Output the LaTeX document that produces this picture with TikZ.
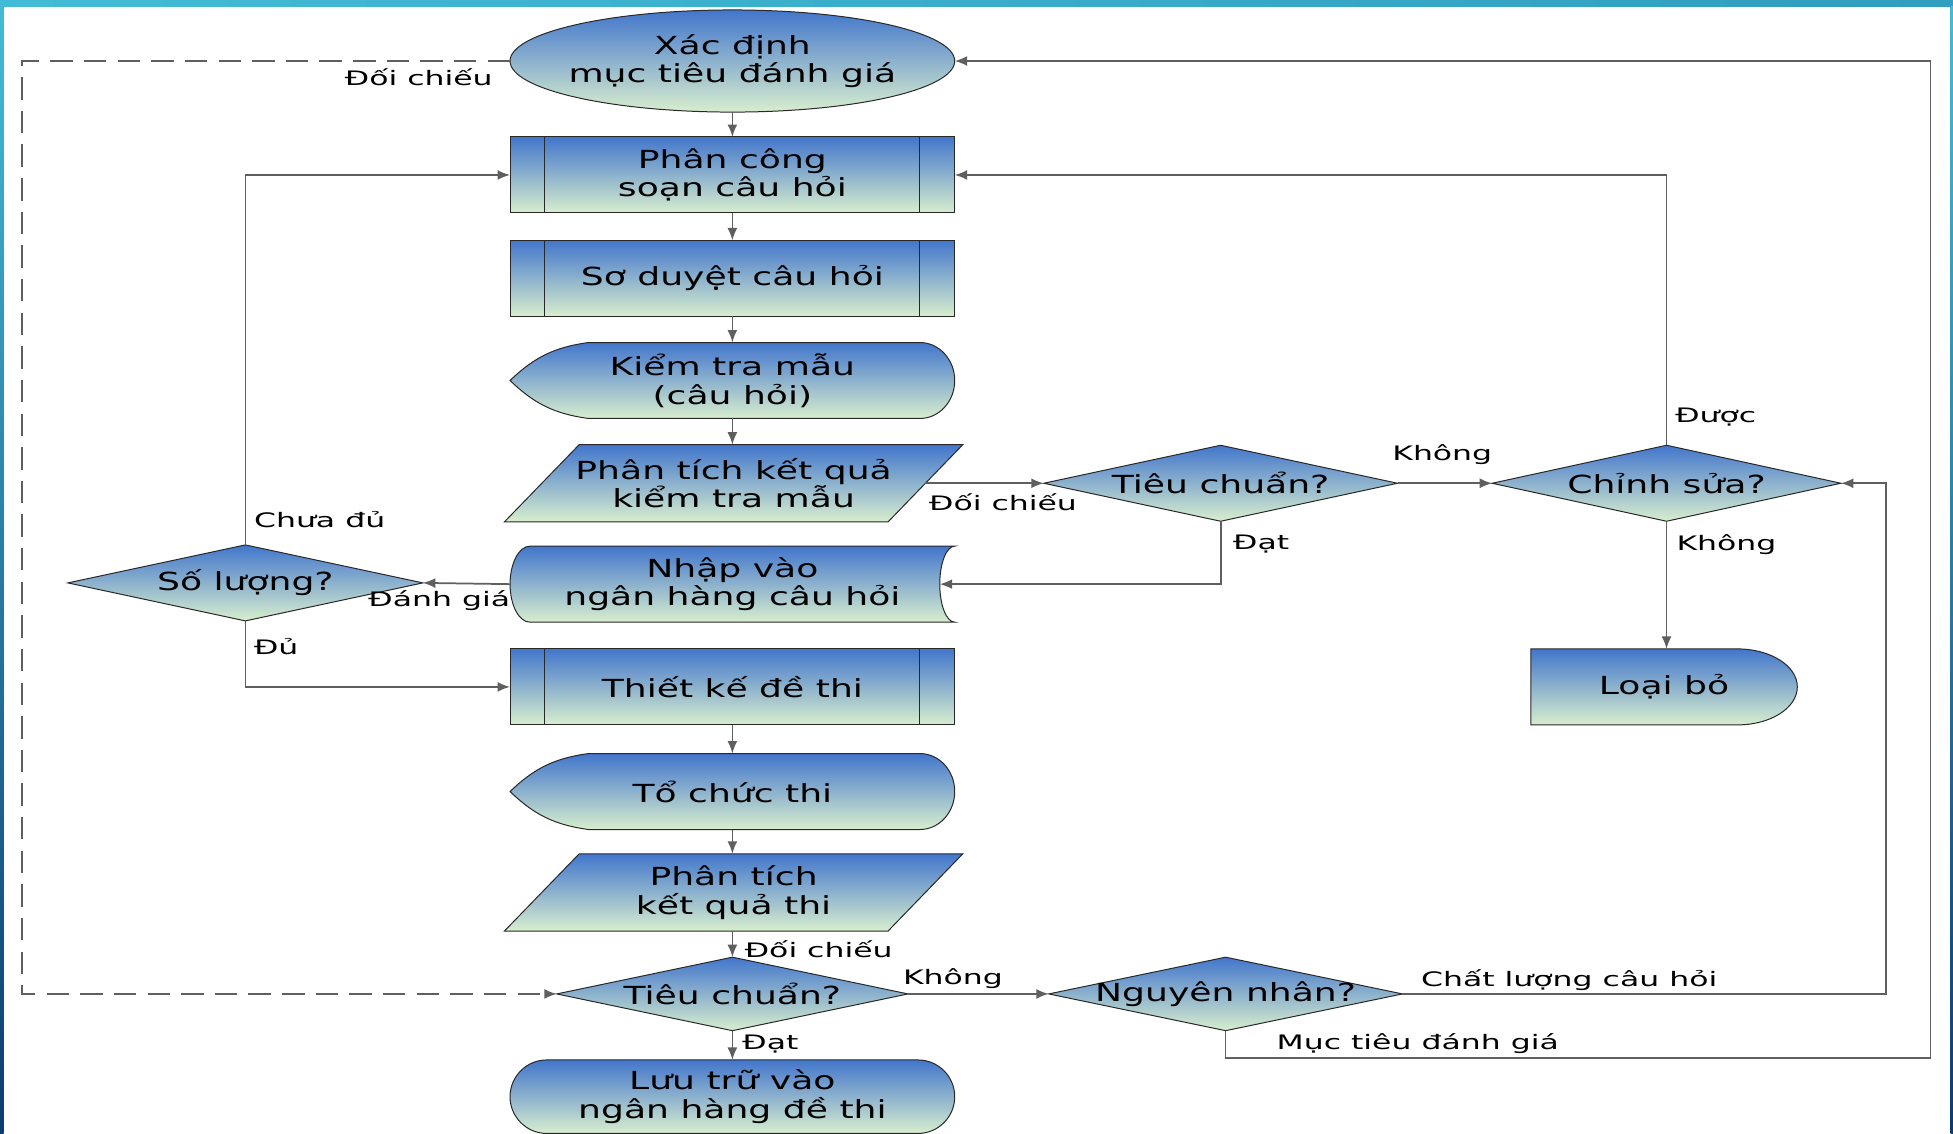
\documentclass[tikz,border=0pt]{standalone}
\usepackage{fontspec}
\usepackage{tikz}
\usetikzlibrary{positioning,shapes.geometric,shapes.misc,arrows.meta,backgrounds}

\newfontfamily\shapefont[FakeStretch=1.45]{DejaVu Sans}
\newfontfamily\lblfont[FakeStretch=1.58]{DejaVu Sans}

\definecolor{shapetop}{RGB}{66,118,204}
\definecolor{shapebot}{RGB}{216,238,206}
\definecolor{shapeedge}{RGB}{40,40,40}
\definecolor{linkgray}{RGB}{95,95,95}
\definecolor{stripcyan}{RGB}{66,188,214}
\definecolor{stripteal}{RGB}{48,158,190}
\definecolor{edgeblue}{RGB}{12,60,110}

\begin{document}
\begin{tikzpicture}[x=1pt,y=1pt,
  every node/.style={inner sep=0pt, outer sep=0pt},
  body/.style={draw=shapeedge, line width=0.8pt, top color=shapetop, bottom color=shapebot},
  txt/.style={align=center, font=\shapefont\fontsize{20}{23}\selectfont},
  box/.style={rectangle, body, txt, minimum width=357pt, minimum height=61pt},
  plain/.style={rectangle, txt, minimum width=357pt, minimum height=61pt},
  decision/.style={diamond, body, minimum width=284pt, minimum height=61pt},
  lbl/.style={font=\lblfont\fontsize{16}{19}\selectfont},
  link/.style={draw=linkgray, line width=1.4pt, -{Latex[length=10pt,width=8pt]}}]
\useasboundingbox (0,0) rectangle (1568,910);

% main column
\node[ellipse, body, minimum width=357pt, minimum height=82pt, label={[txt]center:Xác định\\mục tiêu đánh giá}] (xd) at (588,861) {};
\node[box] (pc) at (588,769.5) {Phân công\\soạn câu hỏi};
\node[box] (sd) at (588,686.5) {Sơ duyệt câu hỏi};
\node[plain] (kt) at (588,604.5) {Kiểm tra mẫu\\(câu hỏi)};
\node[plain, minimum width=308pt, minimum height=62pt] (pt1) at (589,522) {Phân tích kết quả\\kiểm tra mẫu};
\node[plain] (nv) at (588,441) {Nhập vào\\ngân hàng câu hỏi};
\node[box] (tk) at (588,358.5) {Thiết kế đề thi};
\node[plain] (tc) at (588,274.5) {Tổ chức thi};
\node[plain, minimum width=308pt, minimum height=62pt] (pt2) at (589,193.5) {Phân tích\\kết quả thi};
\node[decision, minimum width=282pt, minimum height=59pt, label={[txt]center:Tiêu chuẩn?}] (tc2) at (588,112) {};
\node[rounded rectangle, body, txt, minimum width=357pt, minimum height=59pt] (lt) at (588,29.5) {Lưu trữ vào\\ngân hàng đề thi};

% side nodes
\node[decision, minimum width=285pt, label={[txt]center:Số lượng?}] (sl) at (197,442) {};
\node[decision, label={[txt]center:Tiêu chuẩn?}] (tcr) at (980,522) {};
\node[decision, minimum width=280pt, label={[txt]center:Chỉnh sửa?}] (cs) at (1338,522) {};
\node[plain, minimum width=214pt] (lb) at (1336,358.5) {Loại bỏ};
\node[decision, minimum height=59pt, label={[txt]center:Nguyên nhân?}] (nn) at (984,112) {};

\foreach \n in {pc,sd,tk}
  \draw[shapeedge, line width=0.8pt] ([xshift=28pt]\n.north west) -- ([xshift=28pt]\n.south west)
    ([xshift=-28pt]\n.north east) -- ([xshift=-28pt]\n.south east);

\begin{scope}[on background layer]
\fill[white] (0,0) rectangle (1568,910);
\shade[left color=stripcyan, right color=stripteal] (0,905) rectangle (1568,910);
\shade[top color=stripcyan, bottom color=edgeblue] (0,0) rectangle (3,905);
\shade[top color=stripcyan, bottom color=edgeblue] (1566,0) rectangle (1568,905);
\foreach \n in {kt,tc}
  \path[body] (\n.west) to[bend left=18] ([xshift=63pt]\n.north west) -- ([xshift=-28pt]\n.north east)
    arc[start angle=90, end angle=-90, x radius=28pt, y radius=30.5pt] -- ([xshift=63pt]\n.south west)
    to[bend left=18] (\n.west) -- cycle;
\foreach \n in {pt1,pt2}
  \path[body] ([xshift=30pt]\n.north west) -- ([xshift=30pt]\n.north east)
    -- ([xshift=-30pt]\n.south east) -- ([xshift=-30pt]\n.south west) -- cycle;
\path[body] ([xshift=16pt]nv.north west) -- (nv.north east)
  arc[start angle=90, end angle=270, x radius=12pt, y radius=30.5pt] -- ([xshift=16pt]nv.south west)
  arc[start angle=270, end angle=90, x radius=16pt, y radius=30.5pt] -- cycle;
\path[body] (lb.north west) -- ([xshift=-48pt]lb.north east)
  arc[start angle=90, end angle=-90, x radius=48pt, y radius=30.5pt] -- (lb.south west) -- cycle;
\end{scope}

% connectors
\draw[link] (xd.south) -- (pc.north);
\draw[link] (pc.south) -- (sd.north);
\draw[link] (sd.south) -- (kt.north);
\draw[link] (kt.south) -- (kt.south |- pt1.north);
\draw[link] (tk.south) -- (tc.north);
\draw[link] (tc.south) -- (tc.south |- pt2.north);
\draw[link] (tc2.north |- pt2.south) -- (tc2.north);
\draw[link] (tc2.south) -- (lt.north);
\draw[link] (pt1.east) -- (tcr.west);
\draw[link] (tcr.east) -- (cs.west);
\draw[link] (tcr.south) |- ([xshift=-12pt]nv.east);
\draw[link] (cs.north) |- (pc.east);
\draw[link] (cs.south) -- (cs.south |- lb.north);
\draw[link] (nv.west) -- (sl.east);
\draw[link] (sl.north) |- (pc.west);
\draw[link] (sl.south) |- (tk.west);
\draw[link, dash pattern=on 18pt off 9pt] (xd.west) -- ++(-392,0) |- (tc2.west);
\draw[link] (tc2.east) -- (nn.west);
\draw[link] (nn.east) -- ++(388,0) |- (cs.east);
\draw[link] (nn.south) -- ++(0,-22) -- ++(566,0) |- (xd.east);

% labels
\node[lbl, left=14pt of xd.west, yshift=-13pt] (l1) {Đối chiếu};
\node[lbl, right=3pt of pt1.east, yshift=-15pt] (l2) {Đối chiếu};
\node[lbl, left=0pt of cs.west, yshift=23pt] (l3) {Không};
\node[lbl, right=10pt of tcr.south, yshift=-18.5pt] (l4) {Đạt};
\node[lbl, right=7pt of cs.north, yshift=22.5pt] (l5) {Được};
\node[lbl, right=8pt of cs.south, yshift=-18.5pt] (l6) {Không};
\node[lbl, left=0pt of nv.west, yshift=-13pt] (l7) {Đánh giá};
\node[lbl, right=7pt of sl.north, yshift=20.5pt] (l8) {Chưa đủ};
\node[lbl, right=7pt of sl.south, yshift=-20.5pt] (l9) {Đủ};
\node[lbl, right=10pt of tc2.north, yshift=6.5pt] (l10) {Đối chiếu};
\node[lbl, right=8pt of tc2.south, yshift=-10.5pt] (l11) {Đạt};
\node[lbl, right=-4pt of tc2.east, yshift=12pt] (l12) {Không};
\node[lbl, right=15pt of nn.east, yshift=11pt] (l13) {Chất lượng câu hỏi};
\node[lbl, right=41pt of nn.south, yshift=-10.5pt] (l14) {Mục tiêu đánh giá};
\end{tikzpicture}
\end{document}
